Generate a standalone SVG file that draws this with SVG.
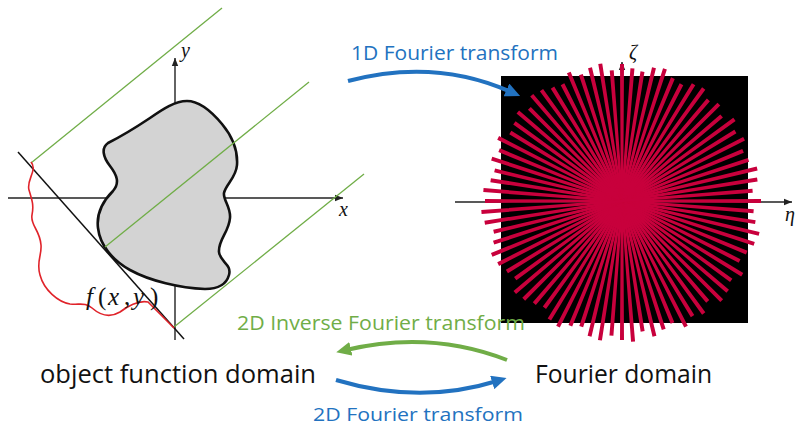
<svg xmlns="http://www.w3.org/2000/svg" xmlns:xlink="http://www.w3.org/1999/xlink" width="798" height="428" viewBox="0 0 798 428">
  <style>
    .txt { font-family: "Open Sans", "Noto Sans", sans-serif; }
    .math { font-family: "Liberation Serif", "DejaVu Serif", serif; font-style: italic; fill: #111; }
    .up { font-style: normal; }
    .axis { stroke: #222; stroke-width: 1.4; fill: none; }
    .ray { stroke: #70ad47; stroke-width: 1.3; fill: none; }
    .spokes { fill: #c8003c; }
    .blue { fill: #2272c0; }
    .green { fill: #70ad47; }
    .dark { fill: #111; }
    .flow { fill: none; stroke-width: 4; }
  </style>
  <defs>
    <marker id="axhead" viewBox="0 0 8 8" refX="8" refY="4" markerWidth="8" markerHeight="8" markerUnits="userSpaceOnUse" orient="auto">
      <path d="M0,0.8 L8,4 L0,7.2 Z" fill="#222"/>
    </marker>
    <marker id="headBlue" viewBox="0 0 15 14" refX="5" refY="7" markerWidth="15" markerHeight="14" markerUnits="userSpaceOnUse" orient="auto">
      <path d="M0,0 L15,7 L0,14 Z" fill="#2272c0"/>
    </marker>
    <marker id="headGreen" viewBox="0 0 15 14" refX="5" refY="7" markerWidth="15" markerHeight="14" markerUnits="userSpaceOnUse" orient="auto">
      <path d="M0,0 L15,7 L0,14 Z" fill="#70ad47"/>
    </marker>
    <!-- tapered spoke variants (narrower at the centre), slightly different lengths -->
    <polygon id="sa" points="-137,-2 0,-1.2 139,-2 139,2 0,1.2 -137,2"/>
    <polygon id="sb" points="-133,-2 0,-1.2 135,-2 135,2 0,1.2 -133,2"/>
    <polygon id="sc" points="-139,-2 0,-1.2 132,-2 132,2 0,1.2 -139,2"/>
    <polygon id="sd" points="-131,-2 0,-1.2 141,-2 141,2 0,1.2 -131,2"/>
  </defs>

  <rect width="798" height="428" fill="#ffffff"/>

  <!-- object domain: axes, object, projection rays and projection profile -->
  <g id="object-domain">
    <line class="axis" x1="8" y1="198" x2="343" y2="198" marker-end="url(#axhead)"/>
    <line class="axis" x1="175" y1="340" x2="175" y2="58" marker-end="url(#axhead)"/>
    <text class="math" x="181" y="57" font-size="20">y</text>
    <text class="math" x="339" y="216" font-size="20">x</text>
    <path id="object" d="M108,143 C118,138 135,128 150,118 C163,109 175,101 187,101 C200,101 212,112 222,124 C232,136 238,150 237,165 C236,178 226,184 224,193 C223,200 231,207 230,218 C229,232 218,240 219,252 C220,262 232,264 229,275 C226,286 215,289 205,289 C180,288 150,281 130,270 C112,260 100,245 98,228 C96,212 104,200 113,191 C120,183 117,175 110,166 C103,157 101,148 108,143 Z" fill="#d3d3d3" stroke="#111" stroke-width="2.6"/>
    <line class="ray" x1="31" y1="163" x2="222" y2="8"/>
    <line class="ray" x1="105" y1="247" x2="309" y2="82"/>
    <line class="ray" x1="174" y1="327" x2="364" y2="174"/>
    <line x1="18" y1="152" x2="184" y2="339" stroke="#111" stroke-width="1.5"/>
    <path d="M31,162 C38,170 26,180 29,190 C32,200 34,205 32,215 C30,225 40,230 41,245 C42,255 36,262 40,275 C44,290 58,302 70,304 C80,305 85,302 92,308 C100,315 110,318 120,312 C128,306 138,300 148,302 L174,328" fill="none" stroke="#e0232a" stroke-width="1.6"/>
    <text class="math" y="305" font-size="25"><tspan x="86">f</tspan><tspan class="up" x="98">(</tspan><tspan x="108">x</tspan><tspan class="up" x="124">,</tspan><tspan x="133">y</tspan><tspan class="up" x="150">)</tspan></text>
  </g>

  <!-- Fourier domain: radial samples on a black field -->
  <g id="fourier-domain">
    <rect x="501" y="76" width="247" height="247" fill="#000"/>
    <line class="axis" x1="455" y1="202" x2="792" y2="202" marker-end="url(#axhead)"/>
    <line class="axis" x1="622" y1="340" x2="622" y2="62" marker-end="url(#axhead)"/>
    <g class="spokes">
      <use xlink:href="#sa" transform="translate(622 201) rotate(0)"/>
      <use xlink:href="#sc" transform="translate(622 201) rotate(4.5)"/>
      <use xlink:href="#sb" transform="translate(622 201) rotate(9)"/>
      <use xlink:href="#sd" transform="translate(622 201) rotate(13.5)"/>
      <use xlink:href="#sa" transform="translate(622 201) rotate(18)"/>
      <use xlink:href="#sb" transform="translate(622 201) rotate(22.5)"/>
      <use xlink:href="#sc" transform="translate(622 201) rotate(27)"/>
      <use xlink:href="#sd" transform="translate(622 201) rotate(31.5)"/>
      <use xlink:href="#sb" transform="translate(622 201) rotate(36)"/>
      <use xlink:href="#sa" transform="translate(622 201) rotate(40.5)"/>
      <use xlink:href="#sd" transform="translate(622 201) rotate(45)"/>
      <use xlink:href="#sc" transform="translate(622 201) rotate(49.5)"/>
      <use xlink:href="#sa" transform="translate(622 201) rotate(54)"/>
      <use xlink:href="#sb" transform="translate(622 201) rotate(58.5)"/>
      <use xlink:href="#sd" transform="translate(622 201) rotate(63)"/>
      <use xlink:href="#sc" transform="translate(622 201) rotate(67.5)"/>
      <use xlink:href="#sb" transform="translate(622 201) rotate(72)"/>
      <use xlink:href="#sa" transform="translate(622 201) rotate(76.5)"/>
      <use xlink:href="#sc" transform="translate(622 201) rotate(81)"/>
      <use xlink:href="#sd" transform="translate(622 201) rotate(85.5)"/>
      <use xlink:href="#sa" transform="translate(622 201) rotate(90)"/>
      <use xlink:href="#sb" transform="translate(622 201) rotate(94.5)"/>
      <use xlink:href="#sd" transform="translate(622 201) rotate(99)"/>
      <use xlink:href="#sa" transform="translate(622 201) rotate(103.5)"/>
      <use xlink:href="#sc" transform="translate(622 201) rotate(108)"/>
      <use xlink:href="#sb" transform="translate(622 201) rotate(112.5)"/>
      <use xlink:href="#sd" transform="translate(622 201) rotate(117)"/>
      <use xlink:href="#sa" transform="translate(622 201) rotate(121.5)"/>
      <use xlink:href="#sc" transform="translate(622 201) rotate(126)"/>
      <use xlink:href="#sb" transform="translate(622 201) rotate(130.5)"/>
      <use xlink:href="#sa" transform="translate(622 201) rotate(135)"/>
      <use xlink:href="#sd" transform="translate(622 201) rotate(139.5)"/>
      <use xlink:href="#sc" transform="translate(622 201) rotate(144)"/>
      <use xlink:href="#sb" transform="translate(622 201) rotate(148.5)"/>
      <use xlink:href="#sa" transform="translate(622 201) rotate(153)"/>
      <use xlink:href="#sd" transform="translate(622 201) rotate(157.5)"/>
      <use xlink:href="#sb" transform="translate(622 201) rotate(162)"/>
      <use xlink:href="#sc" transform="translate(622 201) rotate(166.5)"/>
      <use xlink:href="#sa" transform="translate(622 201) rotate(171)"/>
      <use xlink:href="#sd" transform="translate(622 201) rotate(175.5)"/>
    </g>
    <text class="math" x="629" y="59" font-size="20">ζ</text>
    <text class="math" x="785" y="221" font-size="20">η</text>
  </g>

  <!-- domain labels -->
  <g id="object-label">
    <text class="txt dark" x="40" y="383" font-size="25" textLength="276" lengthAdjust="spacingAndGlyphs">object function domain</text>
  </g>
  <g id="fourier-label">
    <text class="txt dark" x="535" y="383" font-size="25" textLength="177" lengthAdjust="spacingAndGlyphs">Fourier domain</text>
  </g>

  <!-- transforms between the domains -->
  <g id="connectors">
    <path class="flow" d="M348,81 Q435,58 511,92" stroke="#2272c0" marker-end="url(#headBlue)"/>
    <path class="flow" d="M507,360 Q430,330 346,350" stroke="#70ad47" marker-end="url(#headGreen)"/>
    <path class="flow" d="M336,380 Q420,405 497,381" stroke="#2272c0" marker-end="url(#headBlue)"/>
    <text class="txt blue" x="351" y="60" font-size="20" textLength="207" lengthAdjust="spacingAndGlyphs">1D Fourier transform</text>
    <text class="txt green" x="237" y="330" font-size="20" textLength="288" lengthAdjust="spacingAndGlyphs">2D Inverse Fourier transform</text>
    <text class="txt blue" x="313" y="421" font-size="19" textLength="210" lengthAdjust="spacingAndGlyphs">2D Fourier transform</text>
  </g>
</svg>
